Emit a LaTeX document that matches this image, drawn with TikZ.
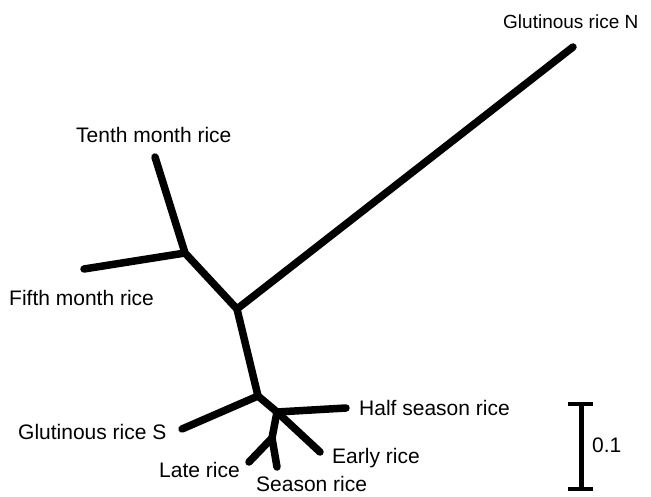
\documentclass[tikz,border=0pt]{standalone}
\usepackage{fontspec}
\setmainfont{Liberation Sans}
\begin{document}
\begin{tikzpicture}[x=1pt,y=-1pt,
  branch/.style={line width=7.5pt,line cap=round,line join=round},
  lbl/.style={anchor=base west,inner sep=0pt,font=\fontsize{21}{24}\selectfont},
  bar/.style={line width=5pt}]
\useasboundingbox (0,0) rectangle (651,496);
% tree points
\coordinate (tenth) at (155,157);
\coordinate (A) at (185,253);
\coordinate (fifth) at (84,269);
\coordinate (B) at (237,309);
\coordinate (gn) at (573,47);
\coordinate (C) at (258,396);
\coordinate (gs) at (182,429);
\coordinate (D) at (277,412);
\coordinate (half) at (346,408);
\coordinate (early) at (320,452);
\coordinate (E) at (272,438);
\coordinate (late) at (249,462);
\coordinate (season) at (277,467);
\draw[branch] (tenth) -- (A) -- (B) -- (gn);
\draw[branch] (fifth) -- (A);
\draw[branch] (B) -- (C) -- (gs);
\draw[branch] (C) -- (D) -- (half);
\draw[branch] (D) -- (early);
\draw[branch] (D) -- (E) -- (late);
\draw[branch] (E) -- (season);
% labels
\node[lbl,font=\fontsize{19}{22}\selectfont] (lgn) at (503,28) {Glutinous rice N};
\node[lbl] (lten) at (76,142) {Tenth month rice};
\node[lbl] (lfif) at (9,305) {Fifth month rice};
\node[lbl] (lgs) at (18,439) {Glutinous rice S};
\node[lbl] (lhalf) at (359,415) {Half season rice};
\node[lbl] (learly) at (332,463) {Early rice};
\node[lbl] (llate) at (159,477) {Late rice};
\node[lbl] (lseason) at (256,491) {Season rice};
% scale bar
\coordinate (st) at (581,404);
\coordinate (sb) at (581,489);
\draw[bar] (st) -- (sb);
\draw[line width=4pt] ([xshift=-13pt]st) -- ([xshift=12pt]st);
\draw[line width=4pt] ([xshift=-13pt]sb) -- ([xshift=12pt]sb);
\node[lbl] (lscale) at (592,452) {0.1};
\end{tikzpicture}
\end{document}
